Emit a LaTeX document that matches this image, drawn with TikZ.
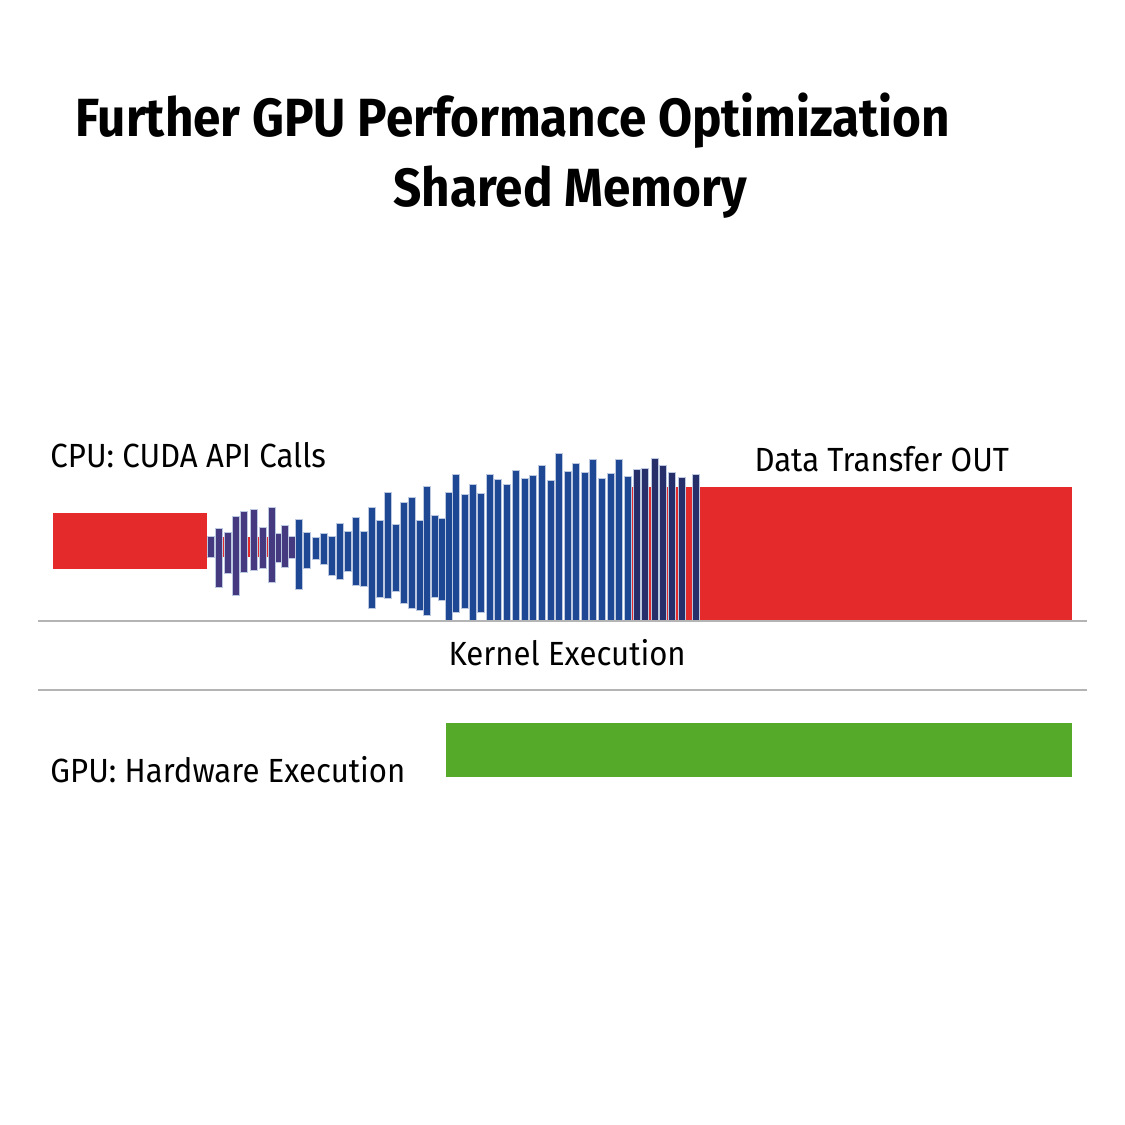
\documentclass[tikz,border=0pt]{standalone}
\usepackage{fontspec}
\setmainfont{Fira Sans}
\newfontfamily\titlefont[FakeStretch=0.92]{Fira Sans}
\newfontfamily\labelfont[FakeStretch=0.93]{Fira Sans}
\usetikzlibrary{positioning}
\definecolor{rougebar}{HTML}{E42A2A}
\definecolor{vertbar}{HTML}{55AA2A}
\definecolor{bleubar}{HTML}{1E4894}
\definecolor{violetbar}{HTML}{453A80}
\definecolor{marinebar}{HTML}{262F6A}
\definecolor{grisl}{HTML}{B4B4B4}

\begin{document}
\begin{tikzpicture}[
  x=0.4pt, y=-0.4pt,
  lbl/.style={inner sep=0pt, anchor=base west, font=\labelfont\fontsize{13.4}{16}\selectfont},
  ttl/.style={inner sep=0pt, anchor=base west, font=\titlefont\bfseries\fontsize{21.5}{26}\selectfont},
  pulse/.style={draw=white!70!bleubar, line width=0.3pt}
]
\useasboundingbox (0,0) rectangle (1125,1125);

% titles
\node[ttl] (titre) at (75,137) {Further GPU Performance Optimization};
\node[ttl] (soustitre) at (393,207) {Shared Memory};

% labels
\node[lbl] (cpu) at (50,467) {CPU: CUDA API Calls};
\node[lbl] (out) at (754,471) {Data Transfer OUT};
\node[lbl] (kernel) at (448,665) {Kernel Execution};
\node[lbl] (gpu) at (50,782) {GPU: Hardware Execution};

% red transfers
\fill[rougebar] (53,513) rectangle (207,569);
\fill[rougebar] (207,537) rectangle (300,557);
\fill[rougebar] (632,487) rectangle (1072,620);

% api call pulses
\foreach \x/\t/\b in {207/536/557, 215/528/587, 224/532/573, 232/516/595,
    240/511/572, 250/509/570, 259/527/568, 268/507/582, 275/533/562,
    281/525/567, 288/536/558}
  \filldraw[pulse, fill=violetbar] (\x,\t) rectangle ++(7,\b-\t);
\foreach \x/\t/\b in {295/519/589, 303/532/568, 312/537/559, 320/533/564,
    328/536/575, 336/523/579, 344/531/571, 352/517/585, 360/531/586,
    368/507/608, 376/520/597, 384/492/598, 392/524/591, 400/502/603,
    408/497/608, 416/520/610, 423/486/615, 431/515/597, 438/518/600,
    445/492/620, 452/474/612, 461/494/608, 469/484/620, 477/493/612,
    486/474/620, 494/479/620, 503/484/620, 512/470/620, 521/478/620,
    529/475/620, 538/465/620, 547/480/620, 555/453/620, 564/471/620,
    572/463/620, 581/472/620, 589/459/620, 598/478/620, 607/473/620,
    615/459/620, 624/476/620}
  \filldraw[pulse, fill=bleubar] (\x,\t) rectangle ++(7,\b-\t);
\foreach \x/\t/\b in {633/469/620, 641/468/620, 651/458/620, 659/465/620,
    668/472/620, 678/477/620, 692/474/620}
  \filldraw[pulse, fill=marinebar] (\x,\t) rectangle ++(7,\b-\t);

% separators
\coordinate (sepA) at (38,621);
\coordinate (sepB) at (1087,621);
\coordinate (sepC) at (38,690);
\coordinate (sepD) at (1087,690);
\draw[grisl, line width=1pt] (sepA) -- (sepB);
\draw[grisl, line width=1pt] (sepC) -- (sepD);

% gpu execution
\fill[vertbar] (446,723) rectangle (1072,777);
\end{tikzpicture}
\end{document}
